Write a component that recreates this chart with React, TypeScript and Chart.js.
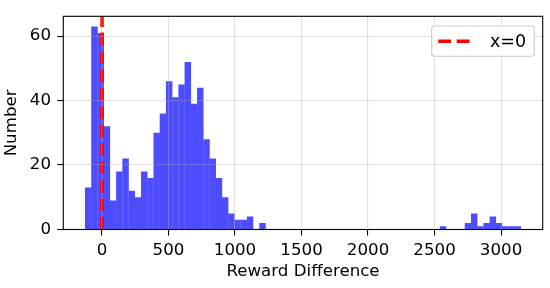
import React, { useEffect, useRef } from "react";
import { Chart, registerables } from "chart.js";

Chart.register(...registerables);

// Histogram bins (70 bins)
const binStart = -127;
const binWidth = 46.8;
const counts = [
  13, 63, 61, 32, 9, 18, 22, 12, 10, 18,
  16, 30, 36, 46, 41, 45, 52, 39, 44, 28,
  22, 16, 10, 5, 3, 3, 4, 0, 2, 0,
  0, 0, 0, 0, 0, 0, 0, 0, 0, 0,
  0, 0, 0, 0, 0, 0, 0, 0, 0, 0,
  0, 0, 0, 0, 0, 0, 0, 1, 0, 0,
  0, 2, 5, 1, 2, 4, 2, 1, 1, 1,
];
const xTicks = [0, 500, 1000, 1500, 2000, 2500, 3000];
const yTicks = [0, 20, 40, 60];
const xMin = -291;
const xMax = 3313;
const yMax = 66.15;
const vLineX = 0;
const legendLabel = "x=0";
const xTitle = "Reward Difference";
const yTitle = "Number";

const FONT = "DejaVu Sans";

export default function App() {
  const ref = useRef<HTMLCanvasElement>(null);

  useEffect(() => {
    if (!ref.current) return;
    const barData = counts.map((c, i) => ({ x: binStart + binWidth * (i + 0.5), y: c }));

    const framePlugin = {
      id: "frameLegend",
      afterDraw(chart: any) {
        const { ctx, chartArea: a } = chart;
        ctx.save();
        ctx.strokeStyle = "#000";
        ctx.lineWidth = 1.1;
        ctx.setLineDash([]);
        ctx.strokeRect(a.left, a.top, a.right - a.left, a.bottom - a.top);

        // legend
        const bx1 = a.right - 8.4;
        const by0 = a.top + 9.7;
        const bx0 = bx1 - 102.6;
        const by1 = by0 + 30.3;
        const r = 3;
        ctx.beginPath();
        ctx.moveTo(bx0 + r, by0);
        ctx.lineTo(bx1 - r, by0);
        ctx.arcTo(bx1, by0, bx1, by0 + r, r);
        ctx.lineTo(bx1, by1 - r);
        ctx.arcTo(bx1, by1, bx1 - r, by1, r);
        ctx.lineTo(bx0 + r, by1);
        ctx.arcTo(bx0, by1, bx0, by1 - r, r);
        ctx.lineTo(bx0, by0 + r);
        ctx.arcTo(bx0, by0, bx0 + r, by0, r);
        ctx.closePath();
        ctx.fillStyle = "rgba(255,255,255,0.8)";
        ctx.fill();
        ctx.strokeStyle = "rgb(204,204,204)";
        ctx.lineWidth = 1.1;
        ctx.stroke();

        const cy = (by0 + by1) / 2;
        ctx.beginPath();
        ctx.strokeStyle = "red";
        ctx.lineWidth = 3.5;
        ctx.setLineDash([12.85, 5.56]);
        ctx.moveTo(bx0 + 6.6, cy);
        ctx.lineTo(bx0 + 40, cy);
        ctx.stroke();
        ctx.setLineDash([]);
        ctx.fillStyle = "#000";
        ctx.font = `17.5px "${FONT}"`;
        ctx.textBaseline = "middle";
        ctx.textAlign = "left";
        ctx.fillText(legendLabel, bx0 + 58.3, cy + 1);
        ctx.restore();
      },
    };

    const tickFont = { family: FONT, size: 16.67 };

    const chart = new Chart(ref.current, {
      type: "bar",
      data: {
        datasets: [
          {
            type: "line",
            label: legendLabel,
            data: [
              { x: vLineX, y: 0 },
              { x: vLineX, y: yMax },
            ],
            borderColor: "red",
            borderWidth: 3.5,
            borderDash: [12.85, 5.56],
            pointRadius: 0,
            fill: false,
            order: 0,
          } as any,
          {
            type: "bar",
            label: "hist",
            data: barData,
            backgroundColor: "rgb(77,77,255)",
            borderWidth: 0,
            barPercentage: 1.04,
            categoryPercentage: 1,
            order: 1,
          } as any,
        ],
      },
      options: {
        animation: false,
        responsive: false,
        maintainAspectRatio: false,
        layout: { padding: { top: 5, right: 7.3, left: 0, bottom: 0 } },
        plugins: { legend: { display: false }, tooltip: { enabled: false } },
        scales: {
          x: {
            type: "linear",
            min: xMin,
            max: xMax,
            offset: false,
            afterFit(s: any) {
              s.height = 58.5;
            },
            afterBuildTicks(s: any) {
              s.ticks = xTicks.map((v) => ({ value: v }));
            },
            grid: {
              offset: false,
              color: "rgba(176,176,176,0.35)",
              lineWidth: 1.1,
              z: 1,
              drawTicks: true,
              tickLength: 6,
              tickColor: "#000",
              tickWidth: 1.1,
            },
            border: { display: false },
            ticks: {
              font: tickFont,
              color: "#000",
              padding: 5,
              maxRotation: 0,
              autoSkip: false,
              callback: (v: any) => String(v),
            },
            title: {
              display: true,
              text: xTitle,
              font: tickFont,
              color: "#000",
              padding: { top: 0, bottom: 6 },
            },
          },
          y: {
            type: "linear",
            min: 0,
            max: yMax,
            afterFit(s: any) {
              s.width = 63.3;
            },
            afterBuildTicks(s: any) {
              s.ticks = yTicks.map((v) => ({ value: v }));
            },
            grid: {
              offset: false,
              color: "rgba(176,176,176,0.35)",
              lineWidth: 1.1,
              z: 1,
              drawTicks: true,
              tickLength: 6,
              tickColor: "#000",
              tickWidth: 1.1,
            },
            border: { display: false },
            ticks: {
              font: tickFont,
              color: "#000",
              padding: 6.3,
              autoSkip: false,
              callback: (v: any) => String(v),
            },
            title: {
              display: true,
              text: yTitle,
              font: tickFont,
              color: "#000",
              padding: { top: 1.5, bottom: 0 },
            },
          },
        },
      } as any,
      plugins: [framePlugin],
    });

    return () => chart.destroy();
  }, []);

  return (
    <div style={{ position: "fixed", left: 0, top: 0, width: 550, height: 288, background: "#fff" }}>
      <canvas ref={ref} width={550} height={288} style={{ display: "block" }} />
    </div>
  );
}
